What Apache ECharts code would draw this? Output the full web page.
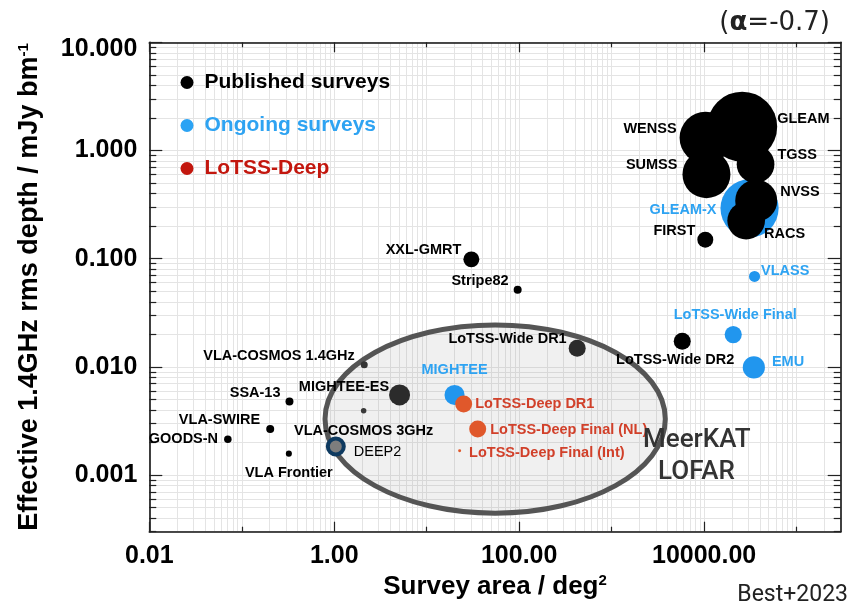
<!DOCTYPE html>
<html><head><meta charset="utf-8">
<script src="https://cdn.jsdelivr.net/npm/echarts@6/dist/echarts.min.js"></script>
<style>html,body{margin:0;padding:0;background:#fff}#c{width:850px;height:609px}</style>
</head><body><div id="c"></div>
<script>
// ---------------- DATA ----------------
// Published surveys: area (deg^2), effective 1.4GHz rms depth (mJy/beam), resolution (arcsec)
const pubNames = ['GOODS-N','VLA-SWIRE','SSA-13','VLA Frontier','VLA-COSMOS 1.4GHz','VLA-COSMOS 3GHz','MIGHTEE-ES','DEEP2','XXL-GMRT','Stripe82','LoTSS-Wide DR1','LoTSS-Wide DR2','FIRST','WENSS','SUMSS','GLEAM','TGSS','NVSS','RACS'];
const pubArea  = [0.0707, 0.203, 0.328, 0.323, 2.11, 2.08, 5.09, 1.04, 30.4, 96.3, 424, 5800, 10300, 10360, 10600, 25800, 36000, 36600, 28500];
const pubDepth = [0.00215, 0.00267, 0.00478, 0.00158, 0.01045, 0.00394, 0.00551, 0.00184, 0.0986, 0.0516, 0.01486, 0.01726, 0.150, 1.31, 0.604, 1.66, 0.746, 0.344, 0.225];
const pubRes   = [1.15, 1.3, 1.3, 0.75, 1.0, 0.62, 9, 5.2, 5.2, 1.3, 5.9, 5.9, 5.2, 55, 47, 100, 29, 36, 29];

// Ongoing surveys
const ongNames = ['GLEAM-X','VLASS','LoTSS-Wide Final','EMU','MIGHTEE'];
const ongArea  = [31000, 35100, 20650, 34500, 20.0];
const ongDepth = [0.292, 0.0686, 0.0199, 0.0099, 0.00551];
const ongRes   = [69, 2.5, 6, 10, 8.2];

// LoTSS-Deep
const deepNames = ['LoTSS-Deep DR1','LoTSS-Deep Final (NL)','LoTSS-Deep Final (Int)'];
const deepArea  = [25.1, 35.6, 22.7];
const deepDepth = [0.00454, 0.00267, 0.00168];
const deepRes   = [5.9, 5.9, 0.18];

// Axes
const xRange = [0.01, 300000];
const yRange = [0.0003, 10];
const xLabelTicks = [0.01, 1, 100, 10000];
const xOddTicks = [0.1, 10, 1000, 100000];
const yLabelTicks = [0.001, 0.01, 0.1, 1, 10];

// Annotation ellipse (data coords: centre, half-widths in decades)
const ellipseCentre = [55, 0.0033];
const ellipseHalfDecades = [1.84, 0.87];

// ---------------- STYLE ----------------
const FONT = 'Liberation Sans';
const BLUE = '#2196ee', BLUE_TXT = '#2ea3f2', RED_PT = '#e0582b', RED_TXT = '#d1402a', RED_LEG = '#c3170e';
// [position, distance, dx, dy]
const labelLayoutMap = {
  'GOODS-N':['left',6,0,0], 'VLA-SWIRE':['left',6,0,-9], 'SSA-13':['left',5,0,-9],
  'VLA Frontier':['bottom',9,0,0], 'VLA-COSMOS 1.4GHz':['left',6,0,-9], 'VLA-COSMOS 3GHz':['bottom',10,0,0],
  'MIGHTEE-ES':['left',0,0,-8], 'DEEP2':['right',8,0,6], 'XXL-GMRT':['left',2,0,-9], 'Stripe82':['left',5,0,-9],
  'LoTSS-Wide DR1':['left',2,0,-9], 'LoTSS-Wide DR2':['bottom',3,-7,0], 'FIRST':['left',2,0,-9],
  'WENSS':['left',3,0,-9], 'SUMSS':['left',5,0,-9], 'GLEAM':['right',0,0,-8], 'TGSS':['right',3,0,-9],
  'NVSS':['right',3,0,-9], 'RACS':['right',-1,0,13], 'GLEAM-X':['left',4,0,2], 'VLASS':['right',1,0,-5],
  'LoTSS-Wide Final':['top',4,2,0], 'EMU':['right',7,0,-5], 'MIGHTEE':['top',7,0,0],
  'LoTSS-Deep DR1':['right',3,0,0], 'LoTSS-Deep Final (NL)':['right',4,0,1], 'LoTSS-Deep Final (Int)':['right',8,0,2]
};
const pointStyle = {
  'MIGHTEE-ES':{color:'#2b2b2b'}, 'LoTSS-Wide DR1':{color:'#2b2b2b'},
  'VLA-COSMOS 1.4GHz':{color:'#333'}, 'VLA-COSMOS 3GHz':{color:'#3a3a3a'},
  'DEEP2':{color:'#7d7d7d', borderColor:'#0e3a60', borderWidth:4}
};
const labelExtra = {'DEEP2':{fontWeight:'normal'}};

const L = Math.log10;
function items(names, area, depth, res){
  return names.map((n,i)=>{
    const lay = labelLayoutMap[n] || ['right',4,0,0];
    const it = {name:n, value:[L(area[i]), L(depth[i]), res[i]],
      label:Object.assign({position:lay[0], distance:lay[1]}, labelExtra[n]||{})};
    if (pointStyle[n]) it.itemStyle = pointStyle[n];
    return it;
  });
}
function minorVals(lo, hi){
  const out=[];
  for(let e=Math.floor(L(lo))-1;e<=Math.ceil(L(hi));e++){
    for(let k=2;k<=9;k++){const v=k*Math.pow(10,e); if(v>lo && v<hi) out.push(L(v));}
  }
  return out;
}
function decadeVals(lo, hi){
  const out=[]; for(let e=Math.ceil(L(lo)-1e-9);e<=Math.floor(L(hi)+1e-9);e++) out.push(e); return out;
}

const GRID = '#e4e4e4';
const AXLINE = {color:'#111', width:1.6};
function baseAxis(range, extra){
  return Object.assign({type:'value', min:L(range[0]), max:L(range[1]), gridIndex:0,
    axisLine:{show:false, onZero:false}, axisTick:{show:false}, axisLabel:{show:false}, splitLine:{show:false}}, extra);
}
function tickAxis(range, pos, vals, len, line){
  return baseAxis(range, {position:pos,
    axisLine:{show:!!line, onZero:false, lineStyle:AXLINE},
    axisTick:{show:true, inside:true, length:len, customValues:vals, lineStyle:{color:'#222', width:1.2}}});
}
function gridAxis(range, pos, vals){
  return baseAxis(range, {position:pos,
    axisTick:{show:false, customValues:vals},
    splitLine:{show:true, lineStyle:{color:GRID, width:1}}});
}

const xMajor = xLabelTicks.map(L), xOdd = xOddTicks.map(L);
const yMajor = yLabelTicks.map(L), yMinor = minorVals(yRange[0], yRange[1]);
const xGridVals = decadeVals(xRange[0], xRange[1]).concat(minorVals(xRange[0], xRange[1]));
const yGridVals = decadeVals(yRange[0], yRange[1]).concat(yMinor);

const xAxis0 = tickAxis(xRange, 'bottom', xMajor, 10, true);
xAxis0.axisLabel = {show:true, customValues:xMajor, formatter:v=>Math.pow(10,v).toFixed(2),
  fontSize:25, fontWeight:'bold', color:'#000', fontFamily:FONT, margin:12};
xAxis0.name = 'Survey area / deg{sup|2}';
xAxis0.nameLocation = 'middle'; xAxis0.nameGap = 37;
xAxis0.nameTextStyle = {fontSize:26, fontWeight:'bold', color:'#000', fontFamily:FONT,
  rich:{sup:{fontSize:15, fontWeight:'bold', color:'#000', fontFamily:FONT, verticalAlign:'top'}}};

const yTop = L(yLabelTicks[yLabelTicks.length-1]);
const yAxis0 = tickAxis(yRange, 'left', yMajor, 13, true);
yAxis0.axisLabel = {show:true, customValues:yMajor,
  formatter:v=>{const s=Math.pow(10,v).toFixed(3); return Math.abs(v-yTop)<1e-9 ? '{top|'+s+'}' : s;},
  fontSize:25, fontWeight:'bold', color:'#000', fontFamily:FONT, margin:12,
  rich:{top:{fontSize:25, fontWeight:'bold', color:'#000', fontFamily:FONT, padding:[14,0,0,0]}}};
yAxis0.name = 'Effective 1.4GHz rms depth / mJy bm{sup|-1}';
yAxis0.nameLocation = 'middle'; yAxis0.nameGap = 106;
yAxis0.nameTextStyle = {fontSize:27, fontWeight:'bold', color:'#000', fontFamily:FONT,
  rich:{sup:{fontSize:15, fontWeight:'bold', color:'#000', fontFamily:FONT, verticalAlign:'top'}}};

function mkSeries(name, names, data, color, txtColor, z){
  return {type:'scatter', name, data, z, xAxisIndex:0, yAxisIndex:0,
    symbol:'circle', symbolSize:v=>7*Math.sqrt(v[2]),
    itemStyle:{color, opacity:1},
    label:{show:true, formatter:'{b}', color:txtColor, fontSize:14.5, fontWeight:'bold', fontFamily:FONT},
    emphasis:{disabled:true},
    labelLayout:function(p){
      const lay = labelLayoutMap[names[p.dataIndex]] || ['right',4,0,0];
      return {dx:lay[2], dy:lay[3], hideOverlap:false};
    }};
}

const chart = echarts.init(document.getElementById('c'), null, {renderer:'canvas'});
chart.setOption({
  animation:false,
  backgroundColor:'#fff',
  textStyle:{fontFamily:FONT},
  grid:{left:149.3, right:9.3, top:42.3, bottom:77.3, containLabel:false},
  legend:{orient:'vertical', left:180.5, top:72, itemWidth:13, itemHeight:13, itemGap:22, icon:'circle',
    padding:0, selectedMode:false,
    textStyle:{fontSize:21, fontWeight:'bold', fontFamily:FONT, lineHeight:20, padding:[0,0,0,6]},
    data:[{name:'Published surveys', textStyle:{color:'#000'}},
          {name:'Ongoing surveys', textStyle:{color:BLUE_TXT}, itemStyle:{color:'#2ba3f4'}},
          {name:'LoTSS-Deep', textStyle:{color:RED_LEG}, itemStyle:{color:RED_LEG}}]},
  xAxis:[xAxis0,
    tickAxis(xRange,'bottom',xOdd,5,false),
    tickAxis(xRange,'top',xMajor,10,true),
    tickAxis(xRange,'top',xOdd,5,false),
    gridAxis(xRange,'bottom',xGridVals)],
  yAxis:[yAxis0,
    tickAxis(yRange,'left',yMinor,7,false),
    tickAxis(yRange,'right',yMajor,13,true),
    tickAxis(yRange,'right',yMinor,7,false),
    gridAxis(yRange,'left',yGridVals)],
  series:[
    mkSeries('Ongoing surveys', ongNames, items(ongNames, ongArea, ongDepth, ongRes), BLUE, BLUE_TXT, 3),
    mkSeries('Published surveys', pubNames, items(pubNames, pubArea, pubDepth, pubRes), '#000', '#000', 4),
    mkSeries('LoTSS-Deep', deepNames, items(deepNames, deepArea, deepDepth, deepRes), RED_PT, RED_TXT, 5)
  ]
});

// annotation ellipse + texts
const c0 = chart.convertToPixel({xAxisIndex:0, yAxisIndex:0}, [L(ellipseCentre[0]), L(ellipseCentre[1])]);
const c1 = chart.convertToPixel({xAxisIndex:0, yAxisIndex:0}, [L(ellipseCentre[0])+ellipseHalfDecades[0], L(ellipseCentre[1])+ellipseHalfDecades[1]]);
chart.setOption({graphic:[
  {type:'ellipse', z:1, silent:true, shape:{cx:c0[0], cy:c0[1], rx:Math.abs(c1[0]-c0[0]), ry:Math.abs(c1[1]-c0[1])},
    style:{fill:'rgba(150,150,150,0.14)', stroke:'#555', lineWidth:5}},
  {type:'text', z:6, left:643, top:427, style:{text:'MeerKAT', font:'500 26px Roboto', fill:'#333'}},
  {type:'text', z:6, left:658, top:459, style:{text:'LOFAR', font:'500 26px Roboto', fill:'#333'}},
  {type:'text', z:6, right:20, top:10, style:{text:'({a|α}=-0.7)', font:'26px "DejaVu Sans"', fill:'#222',
     rich:{a:{font:'bold 26px "DejaVu Sans"', fill:'#222'}}}},
  {type:'text', z:6, right:2, bottom:2, style:{text:'Best+2023', font:'23px Roboto', fill:'#222'}}
]});
</script></body></html>
